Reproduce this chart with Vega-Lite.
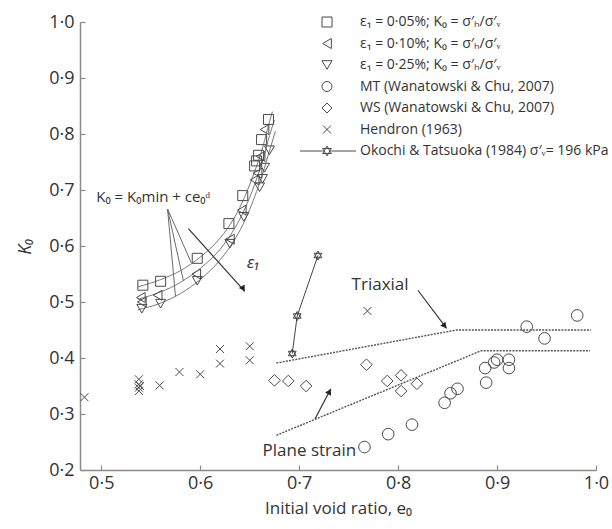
{
  "$schema": "https://vega.github.io/schema/vega-lite/v6.json",
  "width": 516,
  "height": 448,
  "autosize": "none",
  "padding": {"left": 80, "top": 22, "right": 16, "bottom": 59},
  "background": "white",
  "config": {
    "view": {"stroke": null},
    "font": "Open Sans",
    "axis": {
      "grid": false,
      "domainColor": "#8a8a8a",
      "domainWidth": 1.5,
      "tickColor": "#8a8a8a",
      "tickWidth": 1.2,
      "tickSize": -5,
      "labelFont": "Open Sans",
      "labelFontSize": 18,
      "labelColor": "#333",
      "titleFont": "Open Sans",
      "titleFontSize": 17,
      "titleFontWeight": "normal",
      "titleColor": "#333",
      "labelFlush": false
    },
    "legend": {
      "orient": "none", "legendX": 240, "legendY": -7, "title": null, "padding": 0,
      "symbolSize": 100, "symbolStrokeWidth": 1, "symbolStrokeColor": "#4a4a4a", "symbolFillColor": "transparent",
      "labelFont": "Open Sans", "labelFontSize": 14, "labelColor": "#333", "labelOffset": 26, "rowPadding": 7.5, "labelLimit": 400
    }
  },
  "datasets": {
    "pts": [
      {"series": "ε₁ = 0·05%;  K₀ = σ′ₕ/σ′ᵥ", "e": 0.542, "K": 0.530},
      {"series": "ε₁ = 0·05%;  K₀ = σ′ₕ/σ′ᵥ", "e": 0.560, "K": 0.537},
      {"series": "ε₁ = 0·05%;  K₀ = σ′ₕ/σ′ᵥ", "e": 0.597, "K": 0.578},
      {"series": "ε₁ = 0·05%;  K₀ = σ′ₕ/σ′ᵥ", "e": 0.629, "K": 0.640},
      {"series": "ε₁ = 0·05%;  K₀ = σ′ₕ/σ′ᵥ", "e": 0.643, "K": 0.690},
      {"series": "ε₁ = 0·05%;  K₀ = σ′ₕ/σ′ᵥ", "e": 0.655, "K": 0.743},
      {"series": "ε₁ = 0·05%;  K₀ = σ′ₕ/σ′ᵥ", "e": 0.657, "K": 0.752},
      {"series": "ε₁ = 0·05%;  K₀ = σ′ₕ/σ′ᵥ", "e": 0.659, "K": 0.762},
      {"series": "ε₁ = 0·05%;  K₀ = σ′ₕ/σ′ᵥ", "e": 0.662, "K": 0.790},
      {"series": "ε₁ = 0·05%;  K₀ = σ′ₕ/σ′ᵥ", "e": 0.669, "K": 0.826},
      {"series": "ε₁ = 0·10%;  K₀ = σ′ₕ/σ′ᵥ", "e": 0.540, "K": 0.508},
      {"series": "ε₁ = 0·10%;  K₀ = σ′ₕ/σ′ᵥ", "e": 0.541, "K": 0.500},
      {"series": "ε₁ = 0·10%;  K₀ = σ′ₕ/σ′ᵥ", "e": 0.557, "K": 0.512},
      {"series": "ε₁ = 0·10%;  K₀ = σ′ₕ/σ′ᵥ", "e": 0.596, "K": 0.550},
      {"series": "ε₁ = 0·10%;  K₀ = σ′ₕ/σ′ᵥ", "e": 0.630, "K": 0.612},
      {"series": "ε₁ = 0·10%;  K₀ = σ′ₕ/σ′ᵥ", "e": 0.642, "K": 0.664},
      {"series": "ε₁ = 0·10%;  K₀ = σ′ₕ/σ′ᵥ", "e": 0.655, "K": 0.718},
      {"series": "ε₁ = 0·10%;  K₀ = σ′ₕ/σ′ᵥ", "e": 0.658, "K": 0.730},
      {"series": "ε₁ = 0·10%;  K₀ = σ′ₕ/σ′ᵥ", "e": 0.661, "K": 0.760},
      {"series": "ε₁ = 0·10%;  K₀ = σ′ₕ/σ′ᵥ", "e": 0.665, "K": 0.808},
      {"series": "ε₁ = 0·25%;  K₀ = σ′ₕ/σ′ᵥ", "e": 0.541, "K": 0.488},
      {"series": "ε₁ = 0·25%;  K₀ = σ′ₕ/σ′ᵥ", "e": 0.560, "K": 0.497},
      {"series": "ε₁ = 0·25%;  K₀ = σ′ₕ/σ′ᵥ", "e": 0.597, "K": 0.538},
      {"series": "ε₁ = 0·25%;  K₀ = σ′ₕ/σ′ᵥ", "e": 0.630, "K": 0.604},
      {"series": "ε₁ = 0·25%;  K₀ = σ′ₕ/σ′ᵥ", "e": 0.644, "K": 0.652},
      {"series": "ε₁ = 0·25%;  K₀ = σ′ₕ/σ′ᵥ", "e": 0.660, "K": 0.705},
      {"series": "ε₁ = 0·25%;  K₀ = σ′ₕ/σ′ᵥ", "e": 0.663, "K": 0.720},
      {"series": "ε₁ = 0·25%;  K₀ = σ′ₕ/σ′ᵥ", "e": 0.665, "K": 0.740},
      {"series": "ε₁ = 0·25%;  K₀ = σ′ₕ/σ′ᵥ", "e": 0.670, "K": 0.771},
      {"series": "MT (Wanatowski & Chu, 2007)", "e": 0.766, "K": 0.241},
      {"series": "MT (Wanatowski & Chu, 2007)", "e": 0.790, "K": 0.264},
      {"series": "MT (Wanatowski & Chu, 2007)", "e": 0.814, "K": 0.281},
      {"series": "MT (Wanatowski & Chu, 2007)", "e": 0.847, "K": 0.320},
      {"series": "MT (Wanatowski & Chu, 2007)", "e": 0.853, "K": 0.337},
      {"series": "MT (Wanatowski & Chu, 2007)", "e": 0.860, "K": 0.345},
      {"series": "MT (Wanatowski & Chu, 2007)", "e": 0.889, "K": 0.356},
      {"series": "MT (Wanatowski & Chu, 2007)", "e": 0.888, "K": 0.382},
      {"series": "MT (Wanatowski & Chu, 2007)", "e": 0.897, "K": 0.392},
      {"series": "MT (Wanatowski & Chu, 2007)", "e": 0.900, "K": 0.397},
      {"series": "MT (Wanatowski & Chu, 2007)", "e": 0.912, "K": 0.397},
      {"series": "MT (Wanatowski & Chu, 2007)", "e": 0.912, "K": 0.382},
      {"series": "MT (Wanatowski & Chu, 2007)", "e": 0.930, "K": 0.456},
      {"series": "MT (Wanatowski & Chu, 2007)", "e": 0.948, "K": 0.435},
      {"series": "MT (Wanatowski & Chu, 2007)", "e": 0.981, "K": 0.476},
      {"series": "WS (Wanatowski & Chu, 2007)", "e": 0.675, "K": 0.360},
      {"series": "WS (Wanatowski & Chu, 2007)", "e": 0.689, "K": 0.359},
      {"series": "WS (Wanatowski & Chu, 2007)", "e": 0.707, "K": 0.350},
      {"series": "WS (Wanatowski & Chu, 2007)", "e": 0.768, "K": 0.388},
      {"series": "WS (Wanatowski & Chu, 2007)", "e": 0.789, "K": 0.359},
      {"series": "WS (Wanatowski & Chu, 2007)", "e": 0.803, "K": 0.369},
      {"series": "WS (Wanatowski & Chu, 2007)", "e": 0.803, "K": 0.341},
      {"series": "WS (Wanatowski & Chu, 2007)", "e": 0.819, "K": 0.354},
      {"series": "Hendron (1963)", "e": 0.483, "K": 0.330},
      {"series": "Hendron (1963)", "e": 0.538, "K": 0.362},
      {"series": "Hendron (1963)", "e": 0.538, "K": 0.353},
      {"series": "Hendron (1963)", "e": 0.538, "K": 0.347},
      {"series": "Hendron (1963)", "e": 0.538, "K": 0.341},
      {"series": "Hendron (1963)", "e": 0.539, "K": 0.350},
      {"series": "Hendron (1963)", "e": 0.559, "K": 0.351},
      {"series": "Hendron (1963)", "e": 0.579, "K": 0.375},
      {"series": "Hendron (1963)", "e": 0.600, "K": 0.371},
      {"series": "Hendron (1963)", "e": 0.620, "K": 0.416},
      {"series": "Hendron (1963)", "e": 0.620, "K": 0.390},
      {"series": "Hendron (1963)", "e": 0.650, "K": 0.421},
      {"series": "Hendron (1963)", "e": 0.650, "K": 0.396},
      {"series": "Hendron (1963)", "e": 0.769, "K": 0.484}
    ],
    "oko": [
      {"e": 0.693, "K": 0.408},
      {"e": 0.698, "K": 0.475},
      {"e": 0.719, "K": 0.583}
    ],
    "fits": [
      {"curve": "c05", "e": 0.537, "K": 0.527},
      {"curve": "c05", "e": 0.560, "K": 0.540},
      {"curve": "c05", "e": 0.580, "K": 0.556},
      {"curve": "c05", "e": 0.600, "K": 0.580},
      {"curve": "c05", "e": 0.620, "K": 0.614},
      {"curve": "c05", "e": 0.635, "K": 0.652},
      {"curve": "c05", "e": 0.645, "K": 0.688},
      {"curve": "c05", "e": 0.655, "K": 0.733},
      {"curve": "c05", "e": 0.663, "K": 0.775},
      {"curve": "c05", "e": 0.670, "K": 0.822},
      {"curve": "c05", "e": 0.673, "K": 0.840},
      {"curve": "c10", "e": 0.537, "K": 0.505},
      {"curve": "c10", "e": 0.560, "K": 0.518},
      {"curve": "c10", "e": 0.580, "K": 0.535},
      {"curve": "c10", "e": 0.600, "K": 0.560},
      {"curve": "c10", "e": 0.620, "K": 0.594},
      {"curve": "c10", "e": 0.635, "K": 0.632},
      {"curve": "c10", "e": 0.645, "K": 0.666},
      {"curve": "c10", "e": 0.655, "K": 0.710},
      {"curve": "c10", "e": 0.663, "K": 0.752},
      {"curve": "c10", "e": 0.670, "K": 0.797},
      {"curve": "c10", "e": 0.675, "K": 0.825},
      {"curve": "c25", "e": 0.537, "K": 0.486},
      {"curve": "c25", "e": 0.560, "K": 0.498},
      {"curve": "c25", "e": 0.580, "K": 0.515},
      {"curve": "c25", "e": 0.600, "K": 0.540},
      {"curve": "c25", "e": 0.620, "K": 0.575},
      {"curve": "c25", "e": 0.635, "K": 0.612},
      {"curve": "c25", "e": 0.645, "K": 0.645},
      {"curve": "c25", "e": 0.655, "K": 0.688},
      {"curve": "c25", "e": 0.663, "K": 0.728},
      {"curve": "c25", "e": 0.670, "K": 0.770},
      {"curve": "c25", "e": 0.676, "K": 0.805}
    ],
    "bounds": [
      {"line": "Triaxial", "e": 0.677, "K": 0.391},
      {"line": "Triaxial", "e": 0.859, "K": 0.450},
      {"line": "Triaxial", "e": 0.995, "K": 0.450},
      {"line": "Plane strain", "e": 0.677, "K": 0.262},
      {"line": "Plane strain", "e": 0.884, "K": 0.413},
      {"line": "Plane strain", "e": 0.994, "K": 0.413}
    ],
    "pointers": [
      {"e": 0.567, "K": 0.666, "e2": 0.575, "K2": 0.510},
      {"e": 0.567, "K": 0.666, "e2": 0.583, "K2": 0.538},
      {"e": 0.567, "K": 0.666, "e2": 0.591, "K2": 0.570}
    ],
    "arrows": [
      {"name": "Triaxial", "e": 0.820, "K": 0.521, "e2": 0.849, "K2": 0.453},
      {"name": "Plane strain", "e": 0.716, "K": 0.291, "e2": 0.732, "K2": 0.345},
      {"name": "eps", "e": 0.588, "K": 0.631, "e2": 0.645, "K2": 0.519}
    ]
  },
  "encoding": {
    "x": {"field": "e", "type": "quantitative",
      "scale": {"domain": [0.4785, 1.0], "nice": false, "zero": false},
      "axis": {"title": "Initial void ratio, e₀", "values": [0.5, 0.6, 0.7, 0.8, 0.9, 1.0],
        "labelExpr": "replace(format(datum.value, '.1f'), '.', '·')", "labelPadding": 9, "titlePadding": 8}},
    "y": {"field": "K", "type": "quantitative",
      "scale": {"domain": [0.2, 1.0], "nice": false, "zero": false},
      "axis": {"title": "K₀", "titleFontStyle": "italic", "titleFontSize": 18, "values": [0.2, 0.3, 0.4, 0.5, 0.6, 0.7, 0.8, 0.9, 1.0],
        "labelExpr": "replace(format(datum.value, '.1f'), '.', '·')", "labelPadding": 11, "titlePadding": 14}}
  },
  "layer": [
    {
      "data": {"name": "fits"},
      "mark": {"type": "line", "color": "#7a7a7a", "strokeWidth": 1, "interpolate": "monotone"},
      "encoding": {"detail": {"field": "curve"}}
    },
    {
      "data": {"name": "pointers"},
      "mark": {"type": "rule", "color": "#6a6a6a", "strokeWidth": 1},
      "encoding": {"x2": {"field": "e2"}, "y2": {"field": "K2"}}
    },
    {
      "data": {"name": "bounds"},
      "mark": {"type": "line", "color": "#555", "strokeWidth": 1.4, "strokeDash": [2, 1.2]},
      "encoding": {"detail": {"field": "line"}}
    },
    {
      "data": {"name": "pts"},
      "transform": [{"filter": "datum.series !== 'MT (Wanatowski & Chu, 2007)' && datum.series !== 'WS (Wanatowski & Chu, 2007)'"}],
      "mark": {"type": "point", "filled": false, "color": "#4a4a4a", "strokeWidth": 1, "opacity": 1, "size": 100},
      "encoding": {
        "shape": {"field": "series", "type": "nominal",
          "scale": {
            "domain": ["ε₁ = 0·05%;  K₀ = σ′ₕ/σ′ᵥ", "ε₁ = 0·10%;  K₀ = σ′ₕ/σ′ᵥ", "ε₁ = 0·25%;  K₀ = σ′ₕ/σ′ᵥ", "MT (Wanatowski & Chu, 2007)", "WS (Wanatowski & Chu, 2007)", "Hendron (1963)", "Okochi & Tatsuoka (1984) σ′ᵥ= 196 kPa"],
            "range": ["square", "triangle-left", "triangle-down", "circle", "diamond", "M-0.8,-0.8L0.8,0.8M-0.8,0.8L0.8,-0.8", "M-5.4,0L-0.87,0M0.87,0L5.8,0M0,-1L0.866,0.5L-0.866,0.5ZM0,1L0.866,-0.5L-0.866,-0.5Z"]
          }
        }
      }
    },
    {
      "data": {"name": "pts"},
      "transform": [{"filter": "datum.series === 'MT (Wanatowski & Chu, 2007)' || datum.series === 'WS (Wanatowski & Chu, 2007)'"}],
      "mark": {"type": "point", "filled": false, "color": "#4a4a4a", "strokeWidth": 1, "opacity": 1, "size": 135},
      "encoding": {
        "shape": {"field": "series", "type": "nominal"}
      }
    },
    {
      "data": {"name": "oko"},
      "mark": {"type": "line", "color": "#444", "strokeWidth": 1}
    },
    {
      "data": {"name": "oko"},
      "mark": {"type": "point", "filled": false, "color": "#444", "strokeWidth": 1, "size": 81, "opacity": 1,
        "shape": "M0,-1L0.866,0.5L-0.866,0.5ZM0,1L0.866,-0.5L-0.866,-0.5Z"}
    },
    {
      "data": {"name": "arrows"},
      "mark": {"type": "rule", "color": "#333", "strokeWidth": 1.2},
      "encoding": {"x2": {"field": "e2"}, "y2": {"field": "K2"}}
    },
    {
      "data": {"values": [{"e": 0.847, "K": 0.457}]},
      "mark": {"type": "point", "shape": "triangle-up", "filled": true, "color": "#222", "size": 45, "angle": 142, "opacity": 1}
    },
    {
      "data": {"values": [{"e": 0.7306, "K": 0.340}]},
      "mark": {"type": "point", "shape": "triangle-up", "filled": true, "color": "#222", "size": 45, "angle": 28, "opacity": 1}
    },
    {
      "data": {"values": [{"e": 0.6435, "K": 0.5236}]},
      "mark": {"type": "point", "shape": "triangle-up", "filled": true, "color": "#222", "size": 45, "angle": 149, "opacity": 1}
    },
    {
      "data": {"values": [{"label": "Triaxial", "e": 0.753, "K": 0.531}, {"label": "Plane strain", "e": 0.663, "K": 0.234}]},
      "mark": {"type": "text", "align": "left", "baseline": "middle", "fontSize": 17, "color": "#333", "font": "Open Sans"},
      "encoding": {"text": {"field": "label"}}
    },
    {
      "data": {"values": [{"label": "ε₁", "e": 0.647, "K": 0.570}]},
      "mark": {"type": "text", "align": "left", "baseline": "middle", "fontSize": 17, "fontStyle": "italic", "color": "#333", "font": "Open Sans"},
      "encoding": {"text": {"field": "label"}}
    },
    {
      "data": {"values": [{"label": "K₀ = K₀min + ce₀ᵈ", "e": 0.495, "K": 0.688}]},
      "mark": {"type": "text", "align": "left", "baseline": "middle", "fontSize": 15, "color": "#333", "font": "Open Sans"},
      "encoding": {"text": {"field": "label"}}
    }
  ]
}
